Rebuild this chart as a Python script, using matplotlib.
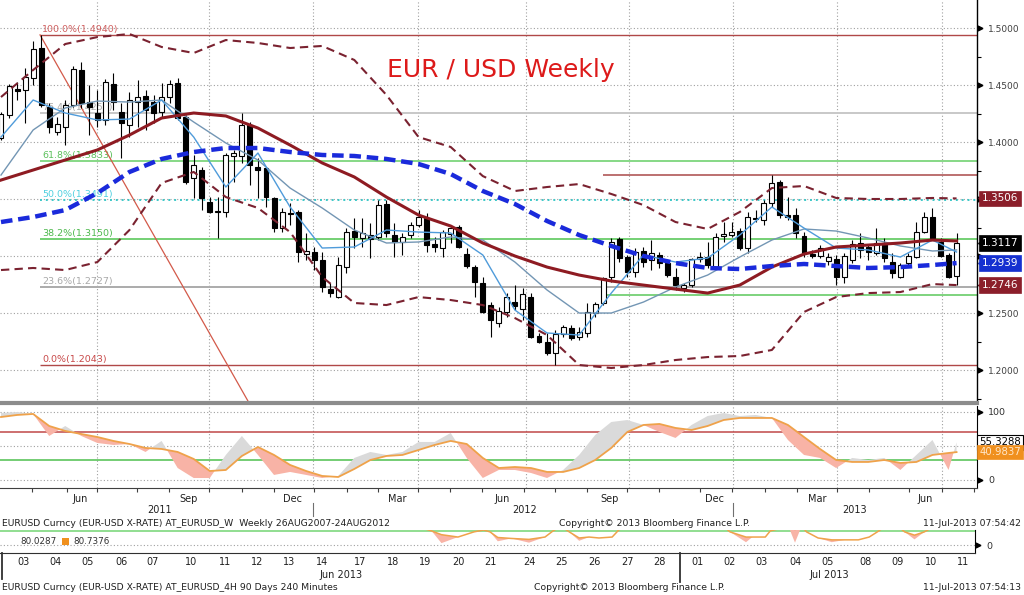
import matplotlib
matplotlib.use('Agg')
import matplotlib.pyplot as plt
import matplotlib.transforms as mtrans
from matplotlib.lines import Line2D
from matplotlib.patches import Rectangle
import numpy as np

# weekly EUR/USD candles, week ending 1 Apr 2011 .. 12 Jul 2013
opens = [1.4036, 1.4237, 1.4465, 1.4457, 1.4562, 1.4825, 1.4308, 1.4088, 1.4132, 1.4325,
         1.4632, 1.4351, 1.4255, 1.4194, 1.4509, 1.4264, 1.4150, 1.4351, 1.4404, 1.4351,
         1.4264, 1.4395, 1.4518, 1.4220, 1.3685, 1.3755, 1.3474, 1.3387, 1.3387, 1.3878,
         1.3878, 1.4150, 1.3782, 1.3773, 1.3510, 1.3246, 1.3378, 1.3387, 1.3018, 1.3036,
         1.2966, 1.2711, 1.2641, 1.2904, 1.3220, 1.3159, 1.3185, 1.3168, 1.3457, 1.3185,
         1.3124, 1.3185, 1.3273, 1.3334, 1.3106, 1.3071, 1.3194, 1.3255, 1.3018, 1.2904,
         1.2764, 1.2571, 1.2413, 1.2510, 1.2597, 1.2536, 1.2641, 1.2299, 1.2247, 1.2151,
         1.2317, 1.2370, 1.2291, 1.2326, 1.2501, 1.2589, 1.2817, 1.3150, 1.2992, 1.2861,
         1.3045, 1.2966, 1.3010, 1.2939, 1.2817, 1.2720, 1.2746, 1.2974, 1.2992, 1.2904,
         1.3176, 1.3185, 1.3220, 1.3071, 1.3334, 1.3316, 1.3466, 1.3650, 1.3360, 1.3360,
         1.3176, 1.3018, 1.3001, 1.2957, 1.2974, 1.2817, 1.2966, 1.3115, 1.3080, 1.3027,
         1.3115, 1.2948, 1.2817, 1.2939, 1.2992, 1.3211, 1.3343, 1.3124, 1.3010, 1.2825]
highs = [1.4264, 1.4509, 1.4527, 1.4650, 1.4886, 1.4940, 1.4343, 1.4220, 1.4369, 1.4667,
         1.4702, 1.4500, 1.4457, 1.4553, 1.4606, 1.4343, 1.4439, 1.4544, 1.4457, 1.4413,
         1.4518, 1.4544, 1.4562, 1.4237, 1.3887, 1.3782, 1.3518, 1.3518, 1.3904, 1.3931,
         1.4255, 1.4176, 1.3860, 1.3782, 1.3518, 1.3422, 1.3466, 1.3404, 1.3203, 1.3080,
         1.3036, 1.2764, 1.2992, 1.3246, 1.3334, 1.3334, 1.3290, 1.3492, 1.3492, 1.3290,
         1.3203, 1.3299, 1.3404, 1.3378, 1.3168, 1.3229, 1.3264, 1.3273, 1.3071, 1.2922,
         1.2817, 1.2597, 1.2554, 1.2676, 1.2746, 1.2720, 1.2676, 1.2326, 1.2326, 1.2352,
         1.2396, 1.2396, 1.2378, 1.2589, 1.2597, 1.2817, 1.3159, 1.3168, 1.3010, 1.3071,
         1.3080, 1.3141, 1.3036, 1.2966, 1.2896, 1.2764, 1.2983, 1.3036, 1.3124, 1.3203,
         1.3299, 1.3299, 1.3246, 1.3387, 1.3404, 1.3492, 1.3711, 1.3667, 1.3518, 1.3422,
         1.3211, 1.3054, 1.3097, 1.3027, 1.3010, 1.3027, 1.3141, 1.3203, 1.3097, 1.3246,
         1.3159, 1.3027, 1.2939, 1.3027, 1.3299, 1.3387, 1.3422, 1.3159, 1.3027, 1.3203]
lows = [1.4018, 1.4211, 1.4369, 1.4167, 1.4500, 1.4308, 1.4080, 1.4062, 1.3974, 1.4308,
        1.4299, 1.4062, 1.4132, 1.4150, 1.4281, 1.3860, 1.4044, 1.4132, 1.4106, 1.4167,
        1.4211, 1.4343, 1.4194, 1.3632, 1.3510, 1.3404, 1.3378, 1.3159, 1.3343, 1.3650,
        1.3817, 1.3624, 1.3510, 1.3431, 1.3211, 1.3211, 1.3273, 1.2948, 1.2966, 1.2878,
        1.2685, 1.2641, 1.2633, 1.2852, 1.3071, 1.3080, 1.2983, 1.3141, 1.3168, 1.2992,
        1.3010, 1.3159, 1.3255, 1.3036, 1.3036, 1.2992, 1.3115, 1.3071, 1.2896, 1.2641,
        1.2501, 1.2291, 1.2378, 1.2466, 1.2527, 1.2440, 1.2282, 1.2238, 1.2133, 1.2043,
        1.2291, 1.2264, 1.2264, 1.2291, 1.2466, 1.2571, 1.2773, 1.2948, 1.2817, 1.2817,
        1.2904, 1.2878, 1.2896, 1.2817, 1.2703, 1.2685, 1.2729, 1.2948, 1.2896, 1.2896,
        1.3124, 1.3168, 1.3054, 1.3027, 1.3299, 1.3273, 1.3431, 1.3334, 1.3316, 1.3159,
        1.2992, 1.2983, 1.2983, 1.2922, 1.2746, 1.2764, 1.2939, 1.2983, 1.2966, 1.3010,
        1.2948, 1.2808, 1.2808, 1.2922, 1.2983, 1.3203, 1.3141, 1.2992, 1.2808, 1.2746]
closes = [1.4246, 1.4492, 1.4448, 1.4571, 1.4816, 1.4325, 1.4132, 1.4158, 1.4325, 1.4641,
          1.4343, 1.4308, 1.4194, 1.4527, 1.4351, 1.4167, 1.4369, 1.4395, 1.4281, 1.4255,
          1.4395, 1.4509, 1.4211, 1.3650, 1.3799, 1.3510, 1.3387, 1.3396, 1.3887, 1.3904,
          1.4150, 1.3799, 1.3755, 1.3518, 1.3246, 1.3387, 1.3369, 1.3036, 1.3045, 1.2966,
          1.2729, 1.2676, 1.2922, 1.3211, 1.3168, 1.3203, 1.3150, 1.3448, 1.3203, 1.3124,
          1.3168, 1.3273, 1.3343, 1.3097, 1.3080, 1.3211, 1.3246, 1.3080, 1.2913, 1.2773,
          1.2510, 1.2440, 1.2519, 1.2641, 1.2562, 1.2668, 1.2291, 1.2247, 1.2151, 1.2317,
          1.2378, 1.2282, 1.2335, 1.2510, 1.2580, 1.2808, 1.3124, 1.2983, 1.2861, 1.3036,
          1.2948, 1.3027, 1.2939, 1.2834, 1.2746, 1.2746, 1.2974, 1.2992, 1.2922, 1.3168,
          1.3194, 1.3211, 1.3071, 1.3343, 1.3325, 1.3466, 1.3641, 1.3360, 1.3343, 1.3203,
          1.3027, 1.3001, 1.3071, 1.2992, 1.2817, 1.3001, 1.3106, 1.3054, 1.3036, 1.3115,
          1.2983, 1.2852, 1.2922, 1.3001, 1.3211, 1.3343, 1.3159, 1.3001, 1.2817, 1.3117]

# indicator lines, read every 4 weeks
line_idx = list(range(0, 117, 4)) + [119]
ma_red = [1.3667, 1.3755, 1.3843, 1.3931, 1.4062, 1.4211, 1.4255, 1.4229, 1.4123, 1.3974,
          1.3817, 1.3694, 1.3518, 1.3360, 1.3264, 1.3115, 1.3001, 1.2904, 1.2834, 1.2782,
          1.2746, 1.2711, 1.2676, 1.2746, 1.2904, 1.3018, 1.3080, 1.3097, 1.3115, 1.3141, 1.3133]
ma_blue = [1.3299, 1.3343, 1.3404, 1.3553, 1.3738, 1.3852, 1.3913, 1.3948, 1.3948, 1.3913,
           1.3887, 1.3878, 1.3852, 1.3808, 1.3720, 1.3571, 1.3457, 1.3308, 1.3185, 1.3089,
           1.3001, 1.2939, 1.2896, 1.2887, 1.2913, 1.2931, 1.2913, 1.2896, 1.2904, 1.2922, 1.2939]
bb_upper = [1.4395, 1.4632, 1.4860, 1.4921, 1.4948, 1.4834, 1.4781, 1.4895, 1.4869, 1.4825,
            1.4843, 1.4720, 1.4413, 1.4044, 1.3957, 1.3702, 1.3571, 1.3606, 1.3632, 1.3545,
            1.3448, 1.3299, 1.3238, 1.3387, 1.3597, 1.3615, 1.3510, 1.3501, 1.3501, 1.3510, 1.3506]
bb_lower = [1.2878, 1.2896, 1.2878, 1.2948, 1.3229, 1.3641, 1.3738, 1.3518, 1.3422, 1.3211,
            1.2817, 1.2589, 1.2571, 1.2641, 1.2615, 1.2571, 1.2457, 1.2308, 1.2045, 1.2019,
            1.2045, 1.2089, 1.2115, 1.2124, 1.2177, 1.2510, 1.2641, 1.2676, 1.2685, 1.2755, 1.2746]
ma_fast = [1.4044, 1.4369, 1.4255, 1.4194, 1.4202, 1.4369, 1.4044, 1.3606, 1.3904, 1.3431,
           1.3071, 1.3080, 1.3229, 1.3211, 1.3203, 1.3010, 1.2527, 1.2326, 1.2308, 1.2676,
           1.3010, 1.2948, 1.2983, 1.3185, 1.3431, 1.3246, 1.3071, 1.3054, 1.2992, 1.3141, 1.3036]
ma_slow = [1.3711, 1.4106, 1.4299, 1.4360, 1.4351, 1.4369, 1.4176, 1.3992, 1.3843, 1.3597,
           1.3422, 1.3229, 1.3115, 1.3124, 1.3168, 1.3141, 1.2948, 1.2703, 1.2501, 1.2501,
           1.2597, 1.2729, 1.2834, 1.2992, 1.3141, 1.3238, 1.3220, 1.3159, 1.3089, 1.3045, 1.3054]

# fibonacci retracement 1.4940 -> 1.2043
fib_pct = ['100.0%', '76.4%', '61.8%', '50.0%', '38.2%', '23.6%', '0.0%']
fib_val = [1.4940, 1.4256, 1.3833, 1.3491, 1.3150, 1.2727, 1.2043]
fib_line_col = ['#B04848', '#C8C8C8', '#86D886', '#3CC8C8', '#74D074', '#ABABAB', '#B04848']
fib_text_col = ['#D06060', '#A8A8A8', '#5CC05C', '#4FD0E0', '#4DB84D', '#A8A8A8', '#C84848']

# trend line and the two short levels (week index, price)
trend_i = [4.86, 31.5]
trend_p = [1.4940, 1.1637]
level_start = 75
level_res = 1.3711
level_sup = 1.2659

# value tags on the right
tag_vals = [1.3506, 1.3117, 1.2939, 1.2746]
tag_cols = ['#8B1E2A', '#000000', '#1530D0', '#8B1E2A']

# weekly stochastic, read every 2 weeks
stoch_idx = list(range(0, 119, 2)) + [119]
stoch_d = [92.6, 95.6, 97.1, 79.4, 72.1, 67.6, 63.2, 57.4, 52.9, 47.1,
           45.6, 41.2, 30.9, 13.2, 14.7, 35.3, 48.5, 36.8, 22.1, 13.2,
           5.9, 4.4, 16.2, 29.4, 35.3, 36.8, 44.1, 51.5, 57.4, 52.9,
           32.4, 17.6, 19.1, 17.6, 11.8, 11.8, 17.6, 29.4, 47.1, 70.6,
           80.9, 82.4, 76.5, 73.5, 79.4, 88.2, 91.2, 91.2, 91.2, 80.9,
           63.2, 45.6, 29.4, 26.5, 26.5, 29.4, 25.0, 26.5, 36.8, 39.7, 41.0]
stoch_k = [98.5, 100, 97.1, 64.7, 79.4, 64.7, 54.4, 51.5, 52.9, 41.2,
           57.4, 17.6, 2.9, 2.9, 36.8, 64.7, 36.8, 7.4, 11.8, 7.4,
           2.9, 5.9, 32.4, 41.2, 36.8, 41.2, 55.9, 55.9, 69.1, 32.4,
           2.9, 14.7, 14.7, 10.3, 2.9, 14.7, 36.8, 66.2, 85.3, 88.2,
           80.9, 70.6, 61.8, 80.9, 94.1, 98.5, 94.1, 95.6, 91.2, 58.8,
           36.8, 32.4, 17.6, 32.4, 29.4, 32.4, 14.7, 36.8, 58.8, 14.7, 55.3]

month_labels = ['Jun', 'Sep', 'Dec', 'Mar', 'Jun', 'Sep', 'Dec', 'Mar', 'Jun']
year_labels = ['2011', '2012', '2013']

# 4H strip (90 days, 240 minutes)
day_labels = ['03', '04', '05', '06', '07', '10', '11', '12', '13', '14', '17', '18', '19', '20', '21',
              '24', '25', '26', '27', '28', '01', '02', '03', '04', '05', '08', '09', '10', '11']
strip_pos = [0, 3, 6, 9, 11.5, 12.2, 12.5, 13.0, 13.5, 13.8, 14.0, 14.2, 14.55, 15.0, 15.5,
             15.75, 16.0, 16.25, 16.55, 16.85, 17.15, 17.55, 17.75, 18.5, 20.0, 20.8, 21.0, 21.5,
             21.7, 22.1, 22.25, 22.8, 23.0, 23.2, 23.35, 23.7, 24.1, 24.45, 24.8, 25.1, 25.4, 25.6,
             26.0, 26.2, 26.5, 26.8, 27.1, 28.5]
strip_d = [75, 80, 80, 72, 45, 30, 22, 17, 28, 32, 28, 16, 14, 12, 17, 30, 40, 28, 15, 17,
           15, 17, 32, 60, 55, 40, 28, 17, 17, 17, 30, 40, 33, 40, 28, 15, 11, 11, 11, 17,
           30, 40, 40, 28, 21, 28, 40, 60]
strip_k = [75, 80, 80, 72, 45, 30, 4, 17, 28, 32, 28, 8, 14, 5, 17, 30, 40, 28, 9, 17,
           15, 17, 32, 60, 55, 40, 28, 6, 17, 17, 30, 40, 5, 40, 28, 15, 6, 11, 11, 17,
           30, 40, 40, 28, 12, 28, 40, 60]

#----------------------------------------------------------------
W, H = 1024, 595
plt.rcParams['font.family'] = ['DejaVu Sans']
fig = plt.figure(figsize=(W / 100, H / 100), dpi=100)
fig.patch.set_facecolor('white')

DOT = (0, (1, 2))


def px_axes(x0, y0, x1, y1):
    return fig.add_axes([x0 / W, 1 - y1 / H, (x1 - x0) / W, (y1 - y0) / H])


def px2i(px):
    # screen x of the weekly panel -> week index
    return (np.asarray(px, dtype=float) - 1) / 8.03


def ftext(px, py, s, **kw):
    return fig.text(px / W, 1 - py / H, s, **kw)


def fline(xs, ys, **kw):
    fig.add_artist(Line2D([x / W for x in xs], [1 - y / H for y in ys], **kw))


quarter_px = [97, 209, 313, 418, 526, 629, 733, 837, 942]
month_label_px = [80, 189, 293, 397, 502, 610, 715, 817, 925]
month_tick_px = [32, 67, 97, 137, 169, 209, 242, 274, 314, 347, 378, 418, 450, 482,
                 524, 555, 587, 627, 659, 700, 732, 765, 797, 837, 869, 909, 942, 974]
x_lo, x_hi = px2i(0), px2i(977)

#----------------- main weekly panel
ax = px_axes(0, 0, 977, 403)
ax.set_xlim(x_lo, x_hi)
ax.set_ylim(1.1712, 1.5246)
for s in ['top', 'left']:
    ax.spines[s].set_visible(False)
ax.spines['right'].set_color('black')
ax.spines['right'].set_linewidth(1.0)
ax.spines['bottom'].set_color('#8C8C8C')
ax.spines['bottom'].set_linewidth(3)

yt = np.arange(1.20, 1.501, 0.05)
for y in yt:
    ax.axhline(y, color='#A0A0A0', lw=0.8, ls=DOT, zorder=0)
for q in px2i(quarter_px):
    ax.axvline(q, color='#A0A0A0', lw=0.8, ls=DOT, zorder=0)

# 1.3000 and 1.3500 sit under the value tags, so they get no label
ax.set_xticks([])
ax.yaxis.tick_right()
ax.set_yticks(yt)
ax.set_yticklabels(['' if abs(v - 1.30) < 1e-6 or abs(v - 1.35) < 1e-6 else '%.4f' % v for v in yt])
ax.set_yticks(np.arange(1.175, 1.52, 0.05), minor=True)
ax.tick_params(axis='y', which='major', length=0, pad=8, labelsize=6.5, labelcolor='#404040')
ax.tick_params(axis='y', which='minor', length=3, width=0.8, color='black', direction='out')
bt = mtrans.blended_transform_factory(ax.transAxes, ax.transData)
ax.plot([1.003] * len(yt), yt, ls='none', marker='>', ms=3.5, color='black', transform=bt, clip_on=False)

# fibonacci levels
for pct, v, lc, tc in zip(fib_pct, fib_val, fib_line_col, fib_text_col):
    style = DOT if pct == '50.0%' else '-'
    lw = 1.0 if lc == '#B04848' else 1.4
    ax.hlines(v, 4.86, x_hi, color=lc, lw=lw, ls=style, zorder=1)
    ax.text(5.1, v + 0.0008, '%s(%.4f)' % (pct, v), color=tc, fontsize=6.8, va='bottom', ha='left', zorder=1)

ax.hlines([level_res], level_start, x_hi, color='#B05858', lw=1.2, zorder=1)
ax.hlines([level_sup], level_start, x_hi, color='#74D074', lw=1.3, zorder=1)
ax.plot(trend_i, trend_p, color='#D35A4A', lw=0.9, zorder=2)

# candles
o = np.array(opens)
c = np.array(closes)
idx = np.arange(len(c))
up = c >= o
ax.vlines(idx, lows, highs, color='black', lw=0.8, zorder=3)
ax.bar(idx[up], np.maximum((c - o)[up], 0.0004), bottom=o[up], width=0.62,
       facecolor='white', edgecolor='black', lw=0.8, zorder=3)
ax.bar(idx[~up], np.maximum((o - c)[~up], 0.0004), bottom=c[~up], width=0.62,
       facecolor='black', edgecolor='black', lw=0.8, zorder=3)

# moving averages / bands
ax.plot(line_idx, ma_slow, color='#7396B4', lw=1.0, zorder=4)
ax.plot(line_idx, ma_fast, color='#4F9BDA', lw=1.0, zorder=4)
ax.plot(line_idx, bb_upper, color='#7A2230', lw=1.5, ls=(0, (4, 2.5)), zorder=4)
ax.plot(line_idx, bb_lower, color='#7A2230', lw=1.5, ls=(0, (4, 2.5)), zorder=4)
ax.plot(line_idx, ma_red, color='#8E1B22', lw=2.2, zorder=5)
ax.plot(line_idx, ma_blue, color='#1A2ADB', lw=3.2, ls=(0, (2.6, 1.3)), zorder=5)

ax.text(387 / 977, 1 - 70 / 403, 'EUR / USD Weekly', transform=ax.transAxes,
        color='#DD1A1A', fontsize=18, ha='left', va='center')

# right value tags
for v, col in zip(tag_vals, tag_cols):
    ax.text(1000 / 977, v, '%.4f' % v, transform=bt, clip_on=False, ha='center', va='center',
            fontsize=7.5, color='white',
            bbox=dict(boxstyle='square,pad=0.28', fc=col, ec=col, lw=0.5))
    ax.plot([983 / 977], [v], marker='<', ms=7, color=col, transform=bt, clip_on=False)

#----------------- stochastic panel
sx = px_axes(0, 406, 977, 488)
sx.set_xlim(x_lo, x_hi)
sx.set_ylim(-11.8, 108.8)
for s in ['top', 'left']:
    sx.spines[s].set_visible(False)
sx.spines['right'].set_color('black')
sx.spines['bottom'].set_color('#404040')
for y in [0, 50, 100]:
    sx.axhline(y, color='#A0A0A0', lw=0.8, ls=DOT, zorder=0)
for q in px2i(quarter_px):
    sx.axvline(q, color='#A0A0A0', lw=0.8, ls=DOT, zorder=0)
sx.axhline(70, color='#C04848', lw=1.1, zorder=1)
sx.axhline(30, color='#4EC04E', lw=1.1, zorder=1)

sd = np.array(stoch_d)
sk = np.array(stoch_k)
sx.fill_between(stoch_idx, sd, sk, where=sk >= sd, interpolate=True, color='#DADADA', lw=0, zorder=2)
sx.fill_between(stoch_idx, sd, sk, where=sk < sd, interpolate=True, color='#F8B3A6', lw=0, zorder=2)
sx.plot(stoch_idx, sd, color='#EFA24A', lw=1.3, zorder=3)

sx.yaxis.tick_right()
sx.set_yticks([0, 100])
sx.set_yticklabels(['0', '100'])
sx.tick_params(axis='y', length=0, pad=8, labelsize=6.8, labelcolor='#303030')
sbt = mtrans.blended_transform_factory(sx.transAxes, sx.transData)
sx.plot([1.003, 1.003], [0, 100], ls='none', marker='>', ms=3.5, color='black', transform=sbt, clip_on=False)

sx.set_xticks(px2i(month_label_px))
sx.set_xticklabels(month_labels)
sx.set_xticks(px2i(month_tick_px), minor=True)
sx.tick_params(axis='x', which='major', length=0, pad=4, labelsize=7, labelcolor='#202020')
sx.tick_params(axis='x', which='minor', length=3, width=0.8, color='#404040', direction='out')

sx.text(1000 / 977, 55.3288, '55.3288', transform=sbt, clip_on=False, ha='center', va='center',
        fontsize=7.3, color='black', bbox=dict(boxstyle='square,pad=0.22', fc='white', ec='black', lw=0.8))
sx.text(1000 / 977, 40.9837, '40.9837', transform=sbt, clip_on=False, ha='center', va='center',
        fontsize=7.3, color='#FFE6C8', bbox=dict(boxstyle='square,pad=0.22', fc='#F0901E', ec='#F0901E', lw=0.5))

for px, lab in zip([160, 525, 855], year_labels):
    ftext(px, 510, lab, ha='center', va='center', fontsize=7, color='#202020')
fline([313, 313], [503, 516], color='#707070', lw=0.8)
fline([733, 733], [503, 516], color='#707070', lw=0.8)

ftext(2, 523, 'EURUSD Curncy (EUR-USD X-RATE) AT_EURUSD_W  Weekly 26AUG2007-24AUG2012',
      fontsize=6.7, va='center', color='#202020')
ftext(559, 523, 'Copyright\u00a9 2013 Bloomberg Finance L.P.', fontsize=6.7, va='center', color='#202020')
ftext(1021, 523, '11-Jul-2013 07:54:42', fontsize=6.7, va='center', ha='right', color='#202020')

#----------------- 4H strip
day_px = [23, 56, 88, 121, 153, 191, 225, 257, 289, 322, 360, 393, 425, 458, 490,
          529, 561, 594, 627, 659, 697, 730, 762, 795, 828, 866, 898, 931, 963]
st = px_axes(0, 530, 975, 553)
st.set_xlim(0, 975)
st.set_ylim(-17, 32)
for s in ['top', 'left']:
    st.spines[s].set_visible(False)
st.spines['right'].set_color('black')
st.spines['bottom'].set_color('#303030')
st.axhline(0, color='#A0A0A0', lw=0.8, ls=DOT, zorder=0)
st.axhline(30, color='#7ED87E', lw=1.2, zorder=1)
stx = np.interp(strip_pos, np.arange(len(day_px)), day_px)
tdd = np.array(strip_d)
tkk = np.array(strip_k)
st.fill_between(stx, tdd, tkk, where=tkk < tdd, interpolate=True, color='#F8B3A6', lw=0, zorder=2)
st.plot(stx, tdd, color='#EFA24A', lw=1.1, zorder=3)
st.set_xticks(day_px)
st.set_xticklabels(day_labels)
st.tick_params(axis='x', length=0, pad=3, labelsize=7, labelcolor='#202020')
st.yaxis.tick_right()
st.set_yticks([0])
st.set_yticklabels(['0'])
st.tick_params(axis='y', length=0, pad=8, labelsize=6.8, labelcolor='#303030')
tbt = mtrans.blended_transform_factory(st.transAxes, st.transData)
st.plot([1.003], [0], ls='none', marker='>', ms=3.5, color='black', transform=tbt, clip_on=False)

ftext(20, 542, '80.0287', fontsize=6.3, va='center', color='#303030')
fig.add_artist(Rectangle((62 / W, 1 - 545 / H), 7 / W, 7 / H, transform=fig.transFigure,
                         fc='#F0901E', ec='none'))
ftext(73, 542, '80.7376', fontsize=6.3, va='center', color='#303030')

fline([2, 2], [553, 579], color='#303030', lw=1.3)
fline([680, 680], [553, 582], color='#303030', lw=1.3)
ftext(341, 575, 'Jun 2013', fontsize=7, ha='center', va='center', color='#202020')
ftext(829, 575, 'Jul 2013', fontsize=7, ha='center', va='center', color='#202020')

ftext(2, 588, 'EURUSD Curncy (EUR-USD X-RATE) AT_EURUSD_4H 90 Days 240 Minutes',
      fontsize=6.7, va='center', color='#202020')
ftext(534, 588, 'Copyright\u00a9 2013 Bloomberg Finance L.P.', fontsize=6.7, va='center', color='#202020')
ftext(1021, 588, '11-Jul-2013 07:54:13', fontsize=6.7, va='center', ha='right', color='#202020')

fig.savefig('out.png', dpi=100, facecolor='white')
